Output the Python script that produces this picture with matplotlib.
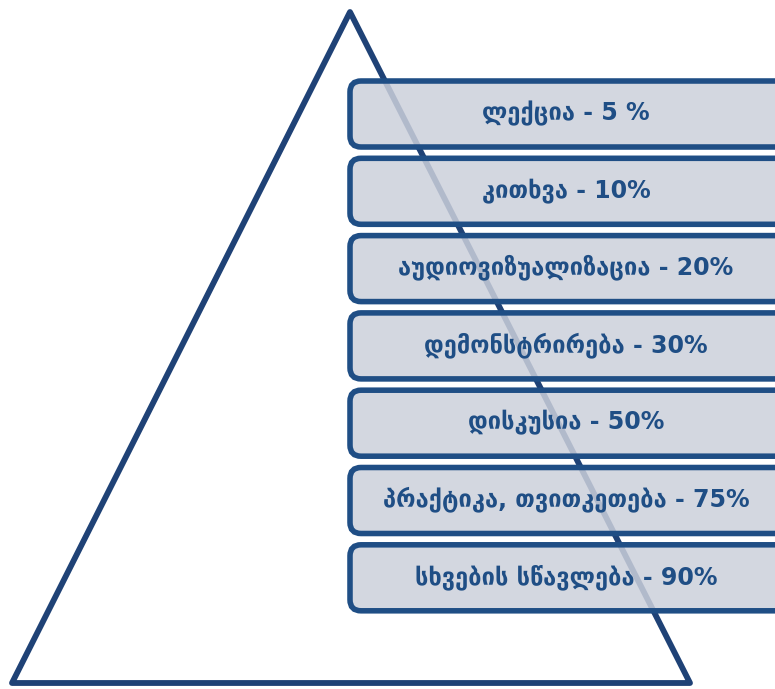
import matplotlib.pyplot as plt
from matplotlib.patches import FancyBboxPatch, Polygon
from matplotlib.colors import to_rgba

plt.rcParams['font.family'] = ['DejaVu Sans']

# learning pyramid levels, top to bottom
methods = ['ლექცია', 'კითხვა', 'აუდიოვიზუალიზაცია', 'დემონსტრირება',
           'დისკუსია', 'პრაქტიკა, თვითკეთება', 'სხვების სწავლება']
retention = ['5 %', '10%', '20%', '30%', '50%', '75%', '90%']

edge = '#1f4e85'
fill = to_rgba('#ccd0db', 0.85)

fig = plt.figure(figsize=(7.75, 6.89), dpi=100)
ax = fig.add_axes([0, 0, 1, 1])
ax.set_xlim(0, 775)
ax.set_ylim(689, 0)
ax.axis('off')

# pyramid outline
tri = Polygon([(350, 12), (12, 683), (690, 683)], closed=True, fill=False,
              edgecolor='#1f4276', lw=4.2, joinstyle='round')
ax.add_patch(tri)

top = 81
step = 77.3
h = 66
for i, (m, r) in enumerate(zip(methods, retention)):
    y = top + i * step
    box = FancyBboxPatch((350, y), 460, h,
                         boxstyle='round,pad=0,rounding_size=11',
                         facecolor=fill, edgecolor=edge, lw=4)
    ax.add_patch(box)
    ax.text(566, y + h / 2 - 1, m + ' - ' + r, ha='center', va='center',
            fontsize=17, fontweight='bold', color=edge)

fig.savefig('out.png', dpi=100)
